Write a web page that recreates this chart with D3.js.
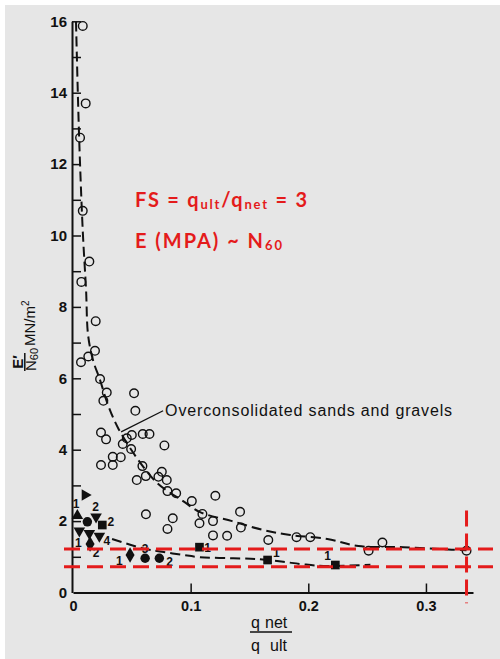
<!DOCTYPE html>
<html>
<head>
<meta charset="utf-8">
<script src="https://cdn.jsdelivr.net/npm/d3@7"></script>
<style>
  html, body { margin: 0; padding: 0; background: #ffffff; }
  svg { display: block; }
</style>
</head>
<body>
<svg id="chart" width="500" height="659"></svg>
<script>
// Open circles: overconsolidated sands and gravels (x = qnet/qult, y = E'/N60)
const openX = [0.0083,0.0108,0.0060,0.0083,0.0139,0.0071,0.0193,0.0187,0.0130,0.0068,
  0.0230,0.0287,0.0258,0.0519,0.0530,0.0238,0.0281,0.0423,0.0457,0.0500,
  0.0494,0.0593,0.0650,0.0777,0.0238,0.0338,0.0338,0.0406,0.0590,0.0542,
  0.0619,0.0726,0.0755,0.0797,0.0803,0.0877,0.1010,0.1210,0.1100,0.1075,
  0.1190,0.1420,0.1427,0.1190,0.1310,0.0620,0.0848,0.0803,0.1660,0.1900,
  0.2017,0.2513,0.2630,0.3345];
const openY = [15.87,13.70,12.74,10.69,9.27,8.70,7.60,6.77,6.61,6.45,
  5.98,5.60,5.37,5.58,5.09,4.48,4.29,4.16,4.32,4.41,
  4.02,4.44,4.44,4.12,3.57,3.80,3.57,3.79,3.54,3.15,
  3.26,3.24,3.38,3.15,2.84,2.78,2.56,2.71,2.20,1.94,
  2.00,2.26,1.82,1.60,1.59,2.19,2.08,1.78,1.47,1.55,
  1.55,1.17,1.40,1.17];

// Filled symbols: other soils
const filledX = [0.0102,0.0037,0.0122,0.0196,0.0249,0.0054,0.0139,0.0224,0.0145,0.0485,0.0613,0.0734,0.1075,0.1654,0.2230];
const filledY = [2.73,2.15,1.98,2.12,1.89,1.73,1.66,1.58,1.36,1.05,0.96,0.96,1.27,0.91,0.77];
const filledShape = ["triRight","triUp","circle","triDown","square","triDown","triDown","triDown","diamond","diamond","circle","circle","square","square","square"];

// Reference numbers beside the filled symbols
const refText = ["1","2","2","1","2","4","3","1","2","1","1","1"];
const refX = [0.0026,0.0193,0.0321,0.0045,0.0196,0.0287,0.0613,0.0394,0.0820,0.1143,0.1728,0.2164];
const refY = [2.47,2.40,1.98,1.39,1.10,1.44,1.21,0.89,0.85,1.24,1.10,1.02];

// Trend curves
const upperX = [0.00255,0.00426,0.00596,0.0085,0.0111,0.0128,0.0170,0.0230,0.0298,0.0383,0.0536,0.0715,0.0936,0.1080,0.1353,0.1617,0.1847,0.2162,0.2426,0.2809,0.3149,0.3345];
const upperY = [15.99,13.80,12.03,9.99,8.48,7.22,6.51,5.95,5.25,4.61,3.80,3.07,2.56,2.25,2.00,1.75,1.61,1.50,1.30,1.27,1.21,1.18];
const lowerX = [0.0332,0.0613,0.0757,0.0936,0.1080,0.1362,0.1591,0.1787,0.1957,0.2162,0.2528];
const lowerY = [1.50,1.22,1.14,1.05,0.99,0.96,0.93,0.86,0.79,0.74,0.78];

// Design lines: FS = 3 and the E'/N60 band
const fsLine = 0.3345;
const bandLevels = [1.22, 0.72];

// Axis ticks
const xTicks = [0, 0.1, 0.2, 0.3];
const xTickLabels = ["0", "0.1", "0.2", "0.3"];
const yTicks = [0,1,2,3,4,5,6,7,8,9,10,11,12,13,14,15,16];
const yTickLabels = ["0","","2","","4","","6","","8","","10","","12","","14","","16"];

// Leader line for the series label (data units)
const leaderFrom = [0.0409, 4.50];
const leaderTo = [0.0766, 5.09];

const svg = d3.select("#chart");
const W = 500, H = 659;

svg.append("rect").attr("x", 5).attr("y", 5).attr("width", W - 5).attr("height", H - 5).attr("fill", "#e6e6e6");

const x = d3.scaleLinear().domain([0, 0.34]).range([73, 473]);
const y = d3.scaleLinear().domain([0, 16]).range([592.5, 21.3]);

// Axes
const yAxis = d3.axisLeft(y).tickValues(yTicks)
  .tickFormat((d, i) => yTickLabels[i]).tickSizeInner(-9).tickSizeOuter(0).tickPadding(5);
const gy = svg.append("g").attr("transform", `translate(${x(0) - 1},0)`).call(yAxis);
gy.select(".domain").attr("stroke", "#111").attr("stroke-width", 2);
gy.selectAll(".tick line").attr("stroke", "#111").attr("stroke-width", 1.5);
gy.selectAll(".tick").filter(d => d === 0).select("line").remove();
gy.selectAll(".tick text").attr("font-family", "Liberation Sans, Arial, sans-serif")
  .attr("font-size", 15).attr("font-weight", "bold").attr("fill", "#111");

const xAxis = d3.axisBottom(x).tickValues(xTicks)
  .tickFormat((d, i) => xTickLabels[i]).tickSizeInner(-9).tickSizeOuter(0).tickPadding(5);
const gx = svg.append("g").attr("transform", `translate(0,${y(0)})`).call(xAxis);
gx.select(".domain").attr("stroke", "#111").attr("stroke-width", 2);
gx.selectAll(".tick line").attr("stroke", "#111").attr("stroke-width", 1.5);
gx.selectAll(".tick").filter(d => d === 0).select("line").remove();
gx.selectAll(".tick text").attr("font-family", "Liberation Sans, Arial, sans-serif")
  .attr("font-size", 14.5).attr("font-weight", "bold").attr("fill", "#111").attr("dy", "0.95em");

// Trend curves
const line = d3.line().x(d => x(d[0])).y(d => y(d[1])).curve(d3.curveCatmullRom.alpha(0.5));
svg.append("path").datum(d3.zip(upperX, upperY)).attr("d", line)
  .attr("fill", "none").attr("stroke", "#111").attr("stroke-width", 2).attr("stroke-dasharray", "10,5");
svg.append("path").datum(d3.zip(lowerX, lowerY)).attr("d", line)
  .attr("fill", "none").attr("stroke", "#111").attr("stroke-width", 2).attr("stroke-dasharray", "10,5");

// Open circles
svg.append("g").selectAll("circle").data(d3.zip(openX, openY)).join("circle")
  .attr("cx", d => x(d[0])).attr("cy", d => y(d[1])).attr("r", 4.3)
  .attr("fill", "none").attr("stroke", "#111").attr("stroke-width", 1.4);

// Filled symbols
const shapes = {
  circle: { type: d3.symbolCircle, size: 70, rot: 0 },
  square: { type: d3.symbolSquare, size: 75, rot: 0 },
  diamond: { type: d3.symbolDiamond, size: 70, rot: 0 },
  triUp: { type: d3.symbolTriangle, size: 58, rot: 0 },
  triDown: { type: d3.symbolTriangle, size: 58, rot: 180 },
  triRight: { type: d3.symbolTriangle, size: 58, rot: 90 }
};
svg.append("g").selectAll("path").data(d3.zip(filledX, filledY, filledShape)).join("path")
  .attr("d", d => d3.symbol().type(shapes[d[2]].type).size(shapes[d[2]].size)())
  .attr("transform", d => `translate(${x(d[0])},${y(d[1])}) rotate(${shapes[d[2]].rot})`)
  .attr("fill", "#111");

svg.append("g").selectAll("text").data(d3.zip(refText, refX, refY)).join("text")
  .attr("x", d => x(d[1])).attr("y", d => y(d[2]))
  .attr("text-anchor", "middle").attr("dominant-baseline", "central")
  .attr("font-family", "Liberation Sans, Arial, sans-serif").attr("font-size", 12)
  .attr("font-weight", "bold").attr("fill", "#111").text(d => d[0]);

// Series label and leader
svg.append("line")
  .attr("x1", x(leaderFrom[0])).attr("y1", y(leaderFrom[1]))
  .attr("x2", x(leaderTo[0])).attr("y2", y(leaderTo[1]))
  .attr("stroke", "#111").attr("stroke-width", 1.3);
svg.append("text").attr("x", x(leaderTo[0]) + 2).attr("y", y(leaderTo[1]) + 5.5)
  .attr("font-family", "Liberation Sans, Arial, sans-serif").attr("font-size", 16)
  .attr("fill", "#111").attr("textLength", 287).attr("lengthAdjust", "spacing")
  .text("Overconsolidated sands and gravels");

// Red design lines
const red = "#e41b1b";
svg.append("g").selectAll("line").data(bandLevels).join("line")
  .attr("x1", 64).attr("x2", 493).attr("y1", d => y(d)).attr("y2", d => y(d))
  .attr("stroke", red).attr("stroke-width", 3).attr("stroke-dasharray", "16,7");
svg.append("line").attr("x1", x(fsLine)).attr("x2", x(fsLine))
  .attr("y1", y(2.3)).attr("y2", y(-0.3))
  .attr("stroke", red).attr("stroke-width", 3).attr("stroke-dasharray", "16,7");

// Red notes
const noteFont = "'Comic Sans MS', 'Lato', 'Open Sans', sans-serif";
const t1 = svg.append("text").attr("x", 135).attr("y", 207)
  .attr("font-family", noteFont).attr("font-size", 20).attr("font-weight", "bold")
  .attr("fill", red).attr("textLength", 172).attr("lengthAdjust", "spacing");
t1.append("tspan").text("FS = q");
t1.append("tspan").attr("font-size", 13).attr("dy", 2).text("ult");
t1.append("tspan").attr("dy", -2).text("/q");
t1.append("tspan").attr("font-size", 13).attr("dy", 2).text("net");
t1.append("tspan").attr("dy", -2).text(" = 3");

const t2 = svg.append("text").attr("x", 135).attr("y", 248)
  .attr("font-family", noteFont).attr("font-size", 20).attr("font-weight", "bold")
  .attr("fill", red).attr("textLength", 147).attr("lengthAdjust", "spacing");
t2.append("tspan").text("E (MPA) ~ N");
t2.append("tspan").attr("font-size", 13).attr("dy", 2).text("60");

// Y axis title: E'/N60 MN/m²
const labFont = "Liberation Sans, Arial, sans-serif";
const yt = svg.append("g").attr("transform", "translate(24,362) rotate(-90)");
yt.append("text").attr("x", 0).attr("y", -1.5).attr("text-anchor", "middle")
  .attr("font-family", labFont).attr("font-size", 15).attr("font-weight", "bold")
  .attr("fill", "#111").text("E\u2032");
yt.append("line").attr("x1", -9).attr("x2", 9).attr("y1", 0.8).attr("y2", 0.8)
  .attr("stroke", "#111").attr("stroke-width", 1.5);
const nt = yt.append("text").attr("x", -9).attr("y", 12)
  .attr("font-family", labFont).attr("font-size", 15).attr("fill", "#111");
nt.append("tspan").text("N");
nt.append("tspan").attr("font-size", 11).attr("dy", 2).text("60");
const mt = yt.append("text").attr("x", 16).attr("y", 11)
  .attr("font-family", labFont).attr("font-size", 15).attr("fill", "#111");
mt.append("tspan").text("MN/m");
mt.append("tspan").attr("font-size", 10).attr("dy", -6).text("2");

// X axis title: q net over q ult
const xt = svg.append("g");
xt.append("text").attr("x", 251).attr("y", 628).attr("font-family", labFont)
  .attr("font-size", 16).attr("fill", "#111").text("q");
xt.append("text").attr("x", 265).attr("y", 628).attr("font-family", labFont)
  .attr("font-size", 16).attr("fill", "#111").text("net");
xt.append("line").attr("x1", 250).attr("x2", 292).attr("y1", 632).attr("y2", 632)
  .attr("stroke", "#111").attr("stroke-width", 1.4);
xt.append("text").attr("x", 251).attr("y", 651).attr("font-family", labFont)
  .attr("font-size", 16).attr("fill", "#111").text("q");
xt.append("text").attr("x", 270).attr("y", 651).attr("font-family", labFont)
  .attr("font-size", 16).attr("fill", "#111").text("ult");
</script>
</body>
</html>
